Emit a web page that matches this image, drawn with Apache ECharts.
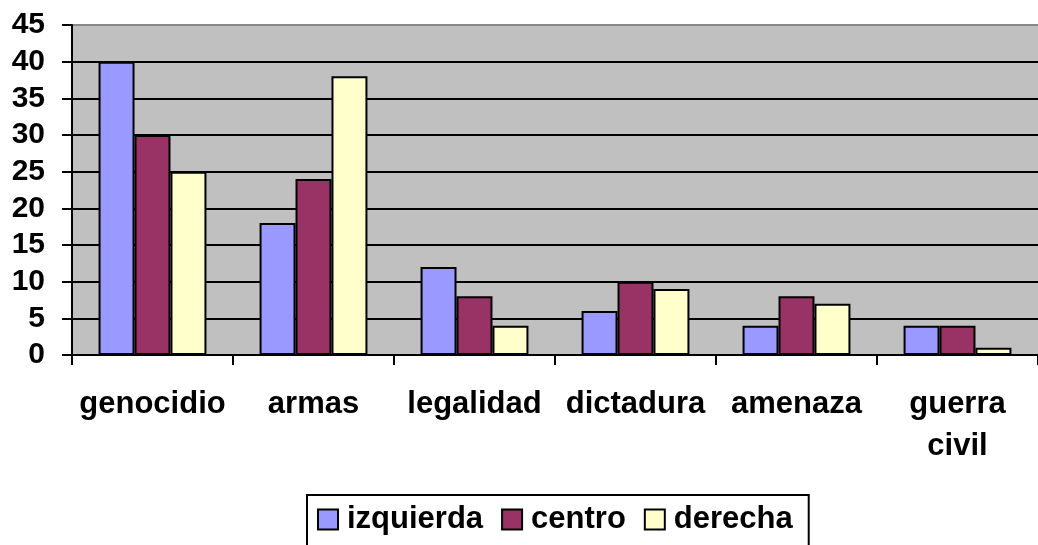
<!DOCTYPE html>
<html>
<head>
<meta charset="utf-8">
<script src="https://cdn.jsdelivr.net/npm/echarts@6/dist/echarts.min.js"></script>
<style>
  html, body { margin: 0; padding: 0; background: #fff; }
  #chart { width: 1038px; height: 545px; }
</style>
</head>
<body>
<div id="chart"></div>
<script>
// datos
var categorias = ['genocidio', 'armas', 'legalidad', 'dictadura', 'amenaza', 'guerra\ncivil'];
var izquierda = [40, 18, 12, 6, 4, 4];
var centro = [30, 24, 8, 10, 8, 4];
var derecha = [25, 38, 4, 9, 7, 1];
var nombres = ['izquierda', 'centro', 'derecha'];
var colores = ['#9999FF', '#993366', '#FFFFCC'];

var fuente = '"Liberation Sans", Arial, sans-serif';

function serie(nombre, datos, color) {
  return {
    name: nombre,
    type: 'bar',
    data: datos,
    barGap: '0%',
    barCategoryGap: '33%',
    itemStyle: { color: color, borderColor: '#000', borderWidth: 2 }
  };
}

var chart = echarts.init(document.getElementById('chart'));
chart.setOption({
  animation: false,
  textStyle: { fontFamily: fuente },
  grid: {
    left: 72, top: 25, right: -8, bottom: 190,
    show: true, backgroundColor: '#C0C0C0', borderWidth: 0
  },
  legend: {
    data: nombres,
    left: 307, top: 495,
    orient: 'horizontal',
    icon: 'rect',
    itemWidth: 20, itemHeight: 20,
    itemGap: 18,
    borderColor: '#000', borderWidth: 2,
    padding: [9, 16, 30, 10],
    itemStyle: { borderColor: '#000', borderWidth: 2 },
    textStyle: {
      fontSize: 31, fontWeight: 'bold', color: '#000', fontFamily: fuente,
      padding: [5, 0, 0, 4]
    }
  },
  xAxis: {
    type: 'category',
    data: categorias,
    axisLine: { lineStyle: { color: '#000', width: 2 } },
    axisTick: { show: true, length: 10, lineStyle: { color: '#000', width: 2 } },
    axisLabel: {
      interval: 0, margin: 28,
      fontSize: 31, fontWeight: 'bold', color: '#000', fontFamily: fuente,
      lineHeight: 42
    }
  },
  yAxis: {
    type: 'value',
    min: 0, max: 45, interval: 5,
    axisLine: { show: true, lineStyle: { color: '#000', width: 2 } },
    axisTick: { show: true, length: 10, lineStyle: { color: '#000', width: 2 } },
    axisLabel: { margin: 27, fontSize: 30, fontWeight: 'bold', color: '#000', fontFamily: fuente },
    splitLine: {
      show: true,
      lineStyle: { color: ['#000', '#000', '#000', '#000', '#000', '#000', '#000', '#000', '#000', '#888'], width: 2 }
    }
  },
  series: [
    serie(nombres[0], izquierda, colores[0]),
    serie(nombres[1], centro, colores[1]),
    serie(nombres[2], derecha, colores[2])
  ]
});
</script>
</body>
</html>
